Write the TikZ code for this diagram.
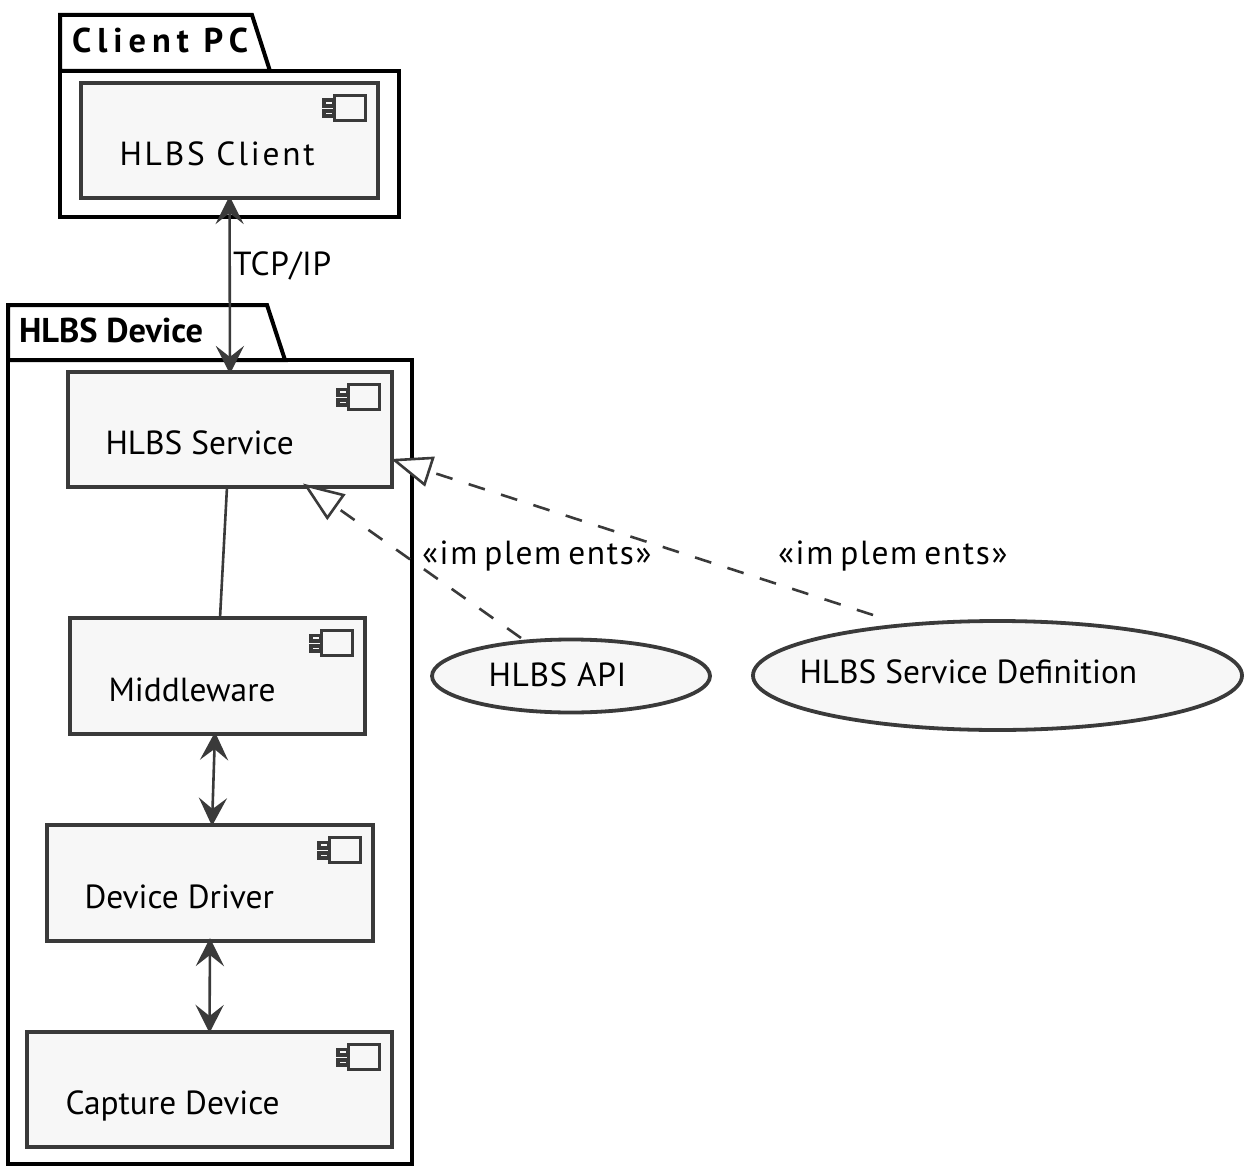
\documentclass[tikz,border=0pt]{standalone}
\usepackage{fontspec}
\setmainfont{PT Sans}
\newfontfamily\spacedbold[LetterSpace=17.5]{PT Sans}
\newfontfamily\spacedreg[LetterSpace=8.3]{PT Sans}
\newfontfamily\stereo[LetterSpace=5]{PT Sans}
\newfontfamily\slightly[LetterSpace=2]{PT Sans}
\usetikzlibrary{arrows.meta,shapes.geometric}
\definecolor{ink}{HTML}{3A3A3A}
\definecolor{boxfill}{HTML}{F7F7F7}
\tikzset{
  x=1pt,y=-1pt,
  pkg/.style={draw=black,line width=4pt,fill=white,line join=miter},
  compbox/.style={draw=ink,fill=boxfill,line width=4pt,rectangle,inner sep=0,outer sep=0},
  usecase/.style={draw=ink,fill=boxfill,line width=3.8pt,ellipse,inner sep=0,outer sep=0},
  txt/.style={inner sep=0,outer sep=0,font=\fontsize{33.4}{38}\selectfont,text=black},
  tagtxt/.style={inner sep=0,outer sep=0,font=\fontsize{34.4}{38}\selectfont\bfseries,text=black},
  flow/.style={draw=ink,line width=2.6pt,{Stealth[length=28pt,width=28pt,inset=11pt,line width=3.5pt]}-{Stealth[length=28pt,width=28pt,inset=11pt,line width=3.5pt]}},
  plain/.style={draw=ink,line width=2.6pt},
  realize/.style={draw=ink,line width=2.6pt,dash pattern=on 17pt off 17pt,-{Triangle[open,length=41pt,width=31pt,fill=white]}},
}
\newcommand{\compicon}[1]{%
  \draw[draw=ink,fill=boxfill,line width=3pt] ([xshift=-44pt,yshift=-12.5pt]#1.north east) rectangle ([xshift=-12.5pt,yshift=-37.5pt]#1.north east);
  \draw[draw=ink,fill=ink,line width=2pt] ([xshift=-55pt,yshift=-16.5pt]#1.north east) rectangle ([xshift=-43pt,yshift=-24pt]#1.north east);
  \draw[draw=ink,fill=ink,line width=2pt] ([xshift=-55pt,yshift=-27pt]#1.north east) rectangle ([xshift=-43pt,yshift=-34pt]#1.north east);
  \draw[draw=boxfill,line width=1.2pt] ([xshift=-52pt,yshift=-20pt]#1.north east) -- ([xshift=-46pt,yshift=-20pt]#1.north east);
  \draw[draw=boxfill,line width=1.2pt] ([xshift=-52pt,yshift=-30.5pt]#1.north east) -- ([xshift=-46pt,yshift=-30.5pt]#1.north east);
}
\newcommand{\impl}{\stereo «im\kern7pt plem\kern7pt ents»}
\begin{document}
\begin{tikzpicture}
\useasboundingbox (0,0) rectangle (1255,1166);
% packages
\draw[pkg] (60,71) rectangle (399,217);
\draw[pkg] (60,71) -- (60,15) -- (252,15) -- (270,71) -- cycle;
\node[tagtxt,anchor=base west] (pcTag) at (72,53) {\spacedbold\bfseries Client PC};
\draw[pkg] (8,360) rectangle (412,1164);
\draw[pkg] (8,360) -- (8,305) -- (267,305) -- (285,360) -- cycle;
\node[tagtxt,anchor=base west] (devTag) at (19,342) {HLBS Device};
% components
\node[compbox,minimum width=297pt,minimum height=115pt] (client) at (229.5,140.5) {};
\node[compbox,minimum width=324pt,minimum height=115pt] (service) at (230,429.5) {};
\node[compbox,minimum width=295pt,minimum height=116pt] (mid) at (217.5,676) {};
\node[compbox,minimum width=326pt,minimum height=116pt] (driver) at (210,883) {};
\node[compbox,minimum width=365pt,minimum height=115pt] (capture) at (209.5,1089.5) {};
\compicon{client}\compicon{service}\compicon{mid}\compicon{driver}\compicon{capture}
\node[txt,anchor=base west] (clientT) at (119.5,165.5) {\spacedreg HLBS Client};
\node[txt,anchor=base west] (serviceT) at (105.5,454.5) {HLBS Service};
\node[txt,anchor=base west] (midT) at (108.5,701.5) {Middleware};
\node[txt,anchor=base west] (driverT) at (84.5,908.5) {Device Driver};
\node[txt,anchor=base west] (captureT) at (65.5,1114.5) {Capture Device};
% use cases
\node[usecase,minimum width=278pt,minimum height=73pt] (api) at (571,676) {};
\node[usecase,minimum width=489pt,minimum height=109pt] (def) at (997.5,675.5) {};
\node[txt,anchor=base west] (apiT) at (488.5,686.5) {\slightly HLBS API};
\node[txt,anchor=base west] (defT) at (799.5,683.5) {HLBS Service Definition};
% connectors
\draw[flow] ([yshift=2pt]client.south) -- ([yshift=-2pt]service.north);
\node[txt,anchor=base west] (tcp) at (233,275.5) {\slightly TCP/IP};
\draw[plain] ([xshift=-3pt]service.south) -- ([xshift=2.5pt]mid.north);
\draw[flow] ([xshift=-2.5pt,yshift=2pt]mid.south) -- ([xshift=2pt,yshift=-1pt]driver.north);
\draw[flow] ([yshift=3pt]driver.south) -- ([yshift=-1pt]capture.north);
\draw[realize] ([xshift=-50pt,yshift=38pt]api.center) -- ([xshift=73pt,yshift=3.5pt]service.south);
\draw[realize] ([xshift=-124.5pt,yshift=60.5pt]def.center) -- ([xshift=-1pt,yshift=-29.5pt]service.east);
\node[txt,anchor=base west] (impA) at (422,564) {\impl};
\node[txt,anchor=base west] (impB) at (778,564) {\impl};
\end{tikzpicture}
\end{document}
